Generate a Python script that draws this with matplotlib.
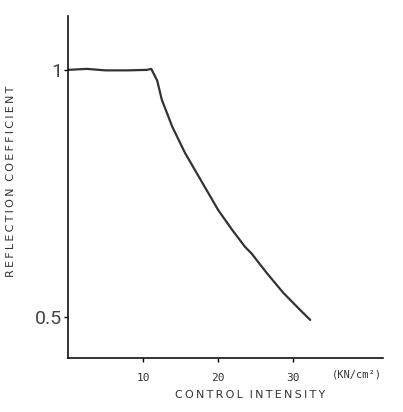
import matplotlib
matplotlib.use("Agg")
import matplotlib.pyplot as plt
import matplotlib.transforms as mtransforms

# Data
intensity = [0, 2.5, 5, 8, 10.5, 11.1, 11.9, 12.5, 13.9, 15.6, 16.9, 18.7, 20.0,
             21.9, 23.6, 24.5, 26.5, 28.7, 30.9, 32.3]
reflection = [1.0, 1.002, 0.999, 0.999, 1.0, 1.002, 0.978, 0.940, 0.885, 0.832, 0.798,
              0.751, 0.717, 0.676, 0.642, 0.628, 0.589, 0.549, 0.515, 0.494]
x_ticks = [10, 20, 30]
x_tick_labels = ["10", "20", "30"]
y_ticks = [0.5, 1.0]
y_tick_labels = ["0.5", "1"]

fig = plt.figure(figsize=(4.03, 4.12), dpi=100)
ax = fig.add_axes([68/403, 1-358/412, (383-68)/403, (358-16)/412])

ax.plot(intensity, reflection, color="#333333", lw=1.6, solid_capstyle="round",
        solid_joinstyle="round")

ax.set_xlim(0, 42)
ax.set_ylim(0.417, 1.109)
for s in ["top", "right"]:
    ax.spines[s].set_visible(False)
for s in ["left", "bottom"]:
    ax.spines[s].set_linewidth(1.2)
    ax.spines[s].set_color("#111111")

ax.set_xticks(x_ticks)
ax.set_xticklabels(x_tick_labels, fontsize=8, color="#333333",
                   fontfamily="DejaVu Sans Mono")
ax.tick_params(axis="x", direction="out", length=3, width=1, pad=8)
ax.set_yticks(y_ticks)
ax.set_yticklabels(y_tick_labels, fontsize=14, color="#444444",
                   fontfamily="Roboto", fontweight="normal")
ax.tick_params(axis="y", direction="out", length=3, width=1, pad=1)

trans = mtransforms.blended_transform_factory(ax.transData, ax.transAxes)
ax.text(38.5, -0.035, "(KN/cm\u00b2)", transform=trans, ha="center", va="top",
        fontsize=7.5, color="#333333", fontfamily="DejaVu Sans Mono")

sp = "\u2009"
def spaced(s):
    return (sp + sp + sp).join(sp.join(w) for w in s.split(" "))

fig.text(250/403, 1-395/412, spaced("CONTROL INTENSITY"), ha="center", va="center",
         fontsize=8, color="#333333")
fig.text(11/403, 1-181/412, spaced("REFLECTION COEFFICIENT"), ha="center", va="center",
         rotation=90, fontsize=8, color="#333333")

fig.savefig("out.png", dpi=100)
